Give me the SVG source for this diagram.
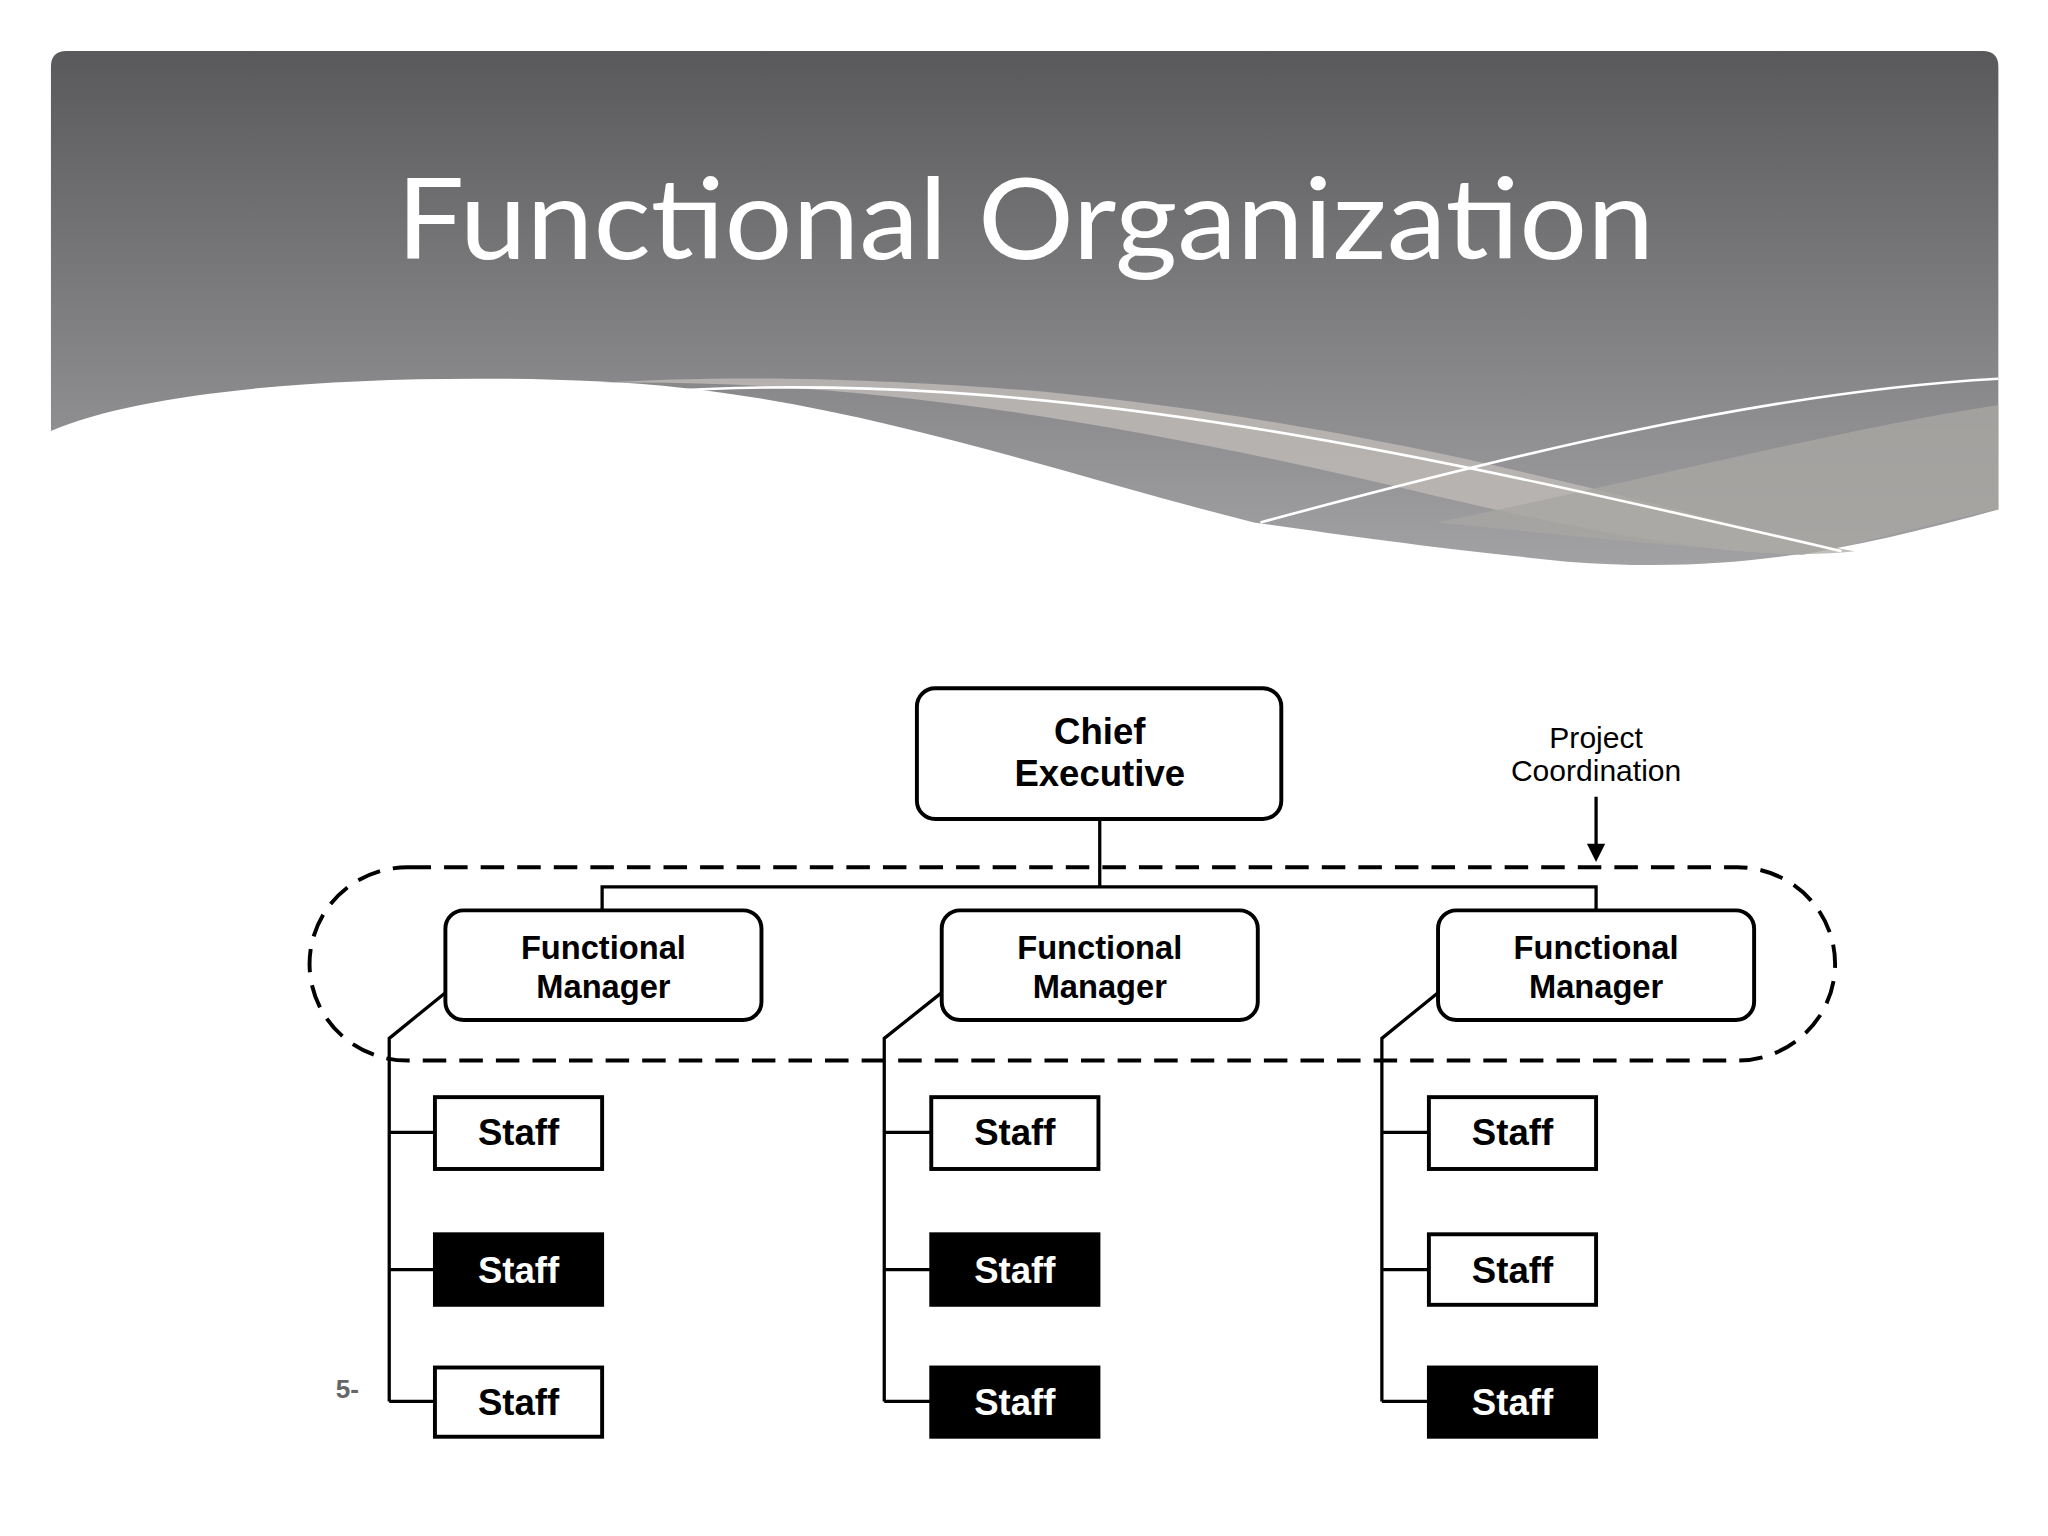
<svg xmlns="http://www.w3.org/2000/svg" width="2048" height="1536" viewBox="0 0 2048 1536">
<defs>
<linearGradient id="hg" x1="0" y1="0" x2="0" y2="1"><stop offset="0" stop-color="#59595b"/><stop offset="1" stop-color="#a2a2a4"/></linearGradient>
<style>
.b{fill:#fff;stroke:#000;stroke-width:3}
.k{fill:#000;stroke:#000;stroke-width:3}
.t{font-family:"Liberation Sans",Arial,sans-serif;font-weight:bold;font-size:28px;text-anchor:middle}
.m{font-family:"Liberation Sans",Arial,sans-serif;font-weight:bold;font-size:25px;text-anchor:middle}
.ln{fill:none;stroke:#000;stroke-width:2.5}
</style>
</defs>
<rect width="2048" height="1536" fill="#fff"/>
<g transform="scale(1.30612)">
<g id="header">
<path d="M39,51 Q39,39 51,39 L1518,39 Q1530,39 1530,51 L1530,390 C1420,420 1330,440 1200,430 C1100,420 1030,410 960,400 C800,360 640,300 460,292 C300,285 120,295 39,330 Z" fill="url(#hg)"/>
<path d="M460,293 C650,290 850,320 1100,380 C1250,415 1350,430 1420,422 C1300,400 1100,330 800,300 C650,288 550,288 460,293 Z" fill="#b9b6b2" opacity="0.9"/>
<path d="M1530,310 C1400,330 1250,370 1100,400 C1200,410 1300,420 1380,425 C1450,410 1500,395 1530,390 Z" fill="#a8a6a3" opacity="0.8"/>
<path d="M500,300 C800,280 1100,350 1410,422" fill="none" stroke="#fff" stroke-width="2"/>
<path d="M965,400 C1150,350 1350,300 1530,290" fill="none" stroke="#fff" stroke-width="2"/>
<text x="785" y="198" font-family="Lato,'Open Sans',sans-serif" font-size="86" fill="#fff" text-anchor="middle" textLength="963" lengthAdjust="spacingAndGlyphs">Functional Organization</text>
</g>
<g id="connectors">
<rect x="237" y="664" width="1168" height="148" rx="75" fill="none" stroke="#000" stroke-width="3" stroke-dasharray="18 10"/>
<path class="ln" d="M842,627 V679 M461,697 V679 H1222 V697"/>
<path class="ln" d="M341,760 L298,795 V1073 M298,867 H333 M298,972 H333 M298,1073 H333"/>
<path class="ln" d="M721,760 L677,795 V1073 M677,867 H713 M677,972 H713 M677,1073 H713"/>
<path class="ln" d="M1101,760 L1058,795 V1073 M1058,867 H1094 M1058,972 H1094 M1058,1073 H1094"/>
<path class="ln" d="M1222,610 V648"/>
<path d="M1215,646 L1229,646 L1222,660 Z" fill="#000"/>
</g>
<g id="chief"><rect class="b" x="702" y="527" width="279" height="100" rx="14"/><text class="t" x="842" y="570">Chief</text><text class="t" x="842" y="602">Executive</text></g>
<g id="pc"><text x="1222" y="573" font-family="'Liberation Sans',sans-serif" font-size="23" text-anchor="middle">Project</text><text x="1222" y="598" font-family="'Liberation Sans',sans-serif" font-size="23" text-anchor="middle">Coordination</text></g>
<g id="fm1"><rect class="b" x="341" y="697" width="242" height="84" rx="14"/><text class="m" x="462" y="734">Functional</text><text class="m" x="462" y="764">Manager</text></g>
<g id="fm2"><rect class="b" x="721" y="697" width="242" height="84" rx="14"/><text class="m" x="842" y="734">Functional</text><text class="m" x="842" y="764">Manager</text></g>
<g id="fm3"><rect class="b" x="1101" y="697" width="242" height="84" rx="14"/><text class="m" x="1222" y="734">Functional</text><text class="m" x="1222" y="764">Manager</text></g>
<g id="s11"><rect class="b" x="333" y="840" width="128" height="55"/><text class="t" x="397" y="877">Staff</text></g>
<g id="s12"><rect class="k" x="333" y="945" width="128" height="54"/><text class="t" x="397" y="982" fill="#fff">Staff</text></g>
<g id="s13"><rect class="b" x="333" y="1047" width="128" height="53"/><text class="t" x="397" y="1083">Staff</text></g>
<g id="s21"><rect class="b" x="713" y="840" width="128" height="55"/><text class="t" x="777" y="877">Staff</text></g>
<g id="s22"><rect class="k" x="713" y="945" width="128" height="54"/><text class="t" x="777" y="982" fill="#fff">Staff</text></g>
<g id="s23"><rect class="k" x="713" y="1047" width="128" height="53"/><text class="t" x="777" y="1083" fill="#fff">Staff</text></g>
<g id="s31"><rect class="b" x="1094" y="840" width="128" height="55"/><text class="t" x="1158" y="877">Staff</text></g>
<g id="s32"><rect class="b" x="1094" y="945" width="128" height="54"/><text class="t" x="1158" y="982">Staff</text></g>
<g id="s33"><rect class="k" x="1094" y="1047" width="128" height="53"/><text class="t" x="1158" y="1083" fill="#fff">Staff</text></g>
<text x="266" y="1070" font-family="'Liberation Sans',sans-serif" font-size="20" font-weight="bold" fill="#666" text-anchor="middle">5-</text>
</g>
</svg>
